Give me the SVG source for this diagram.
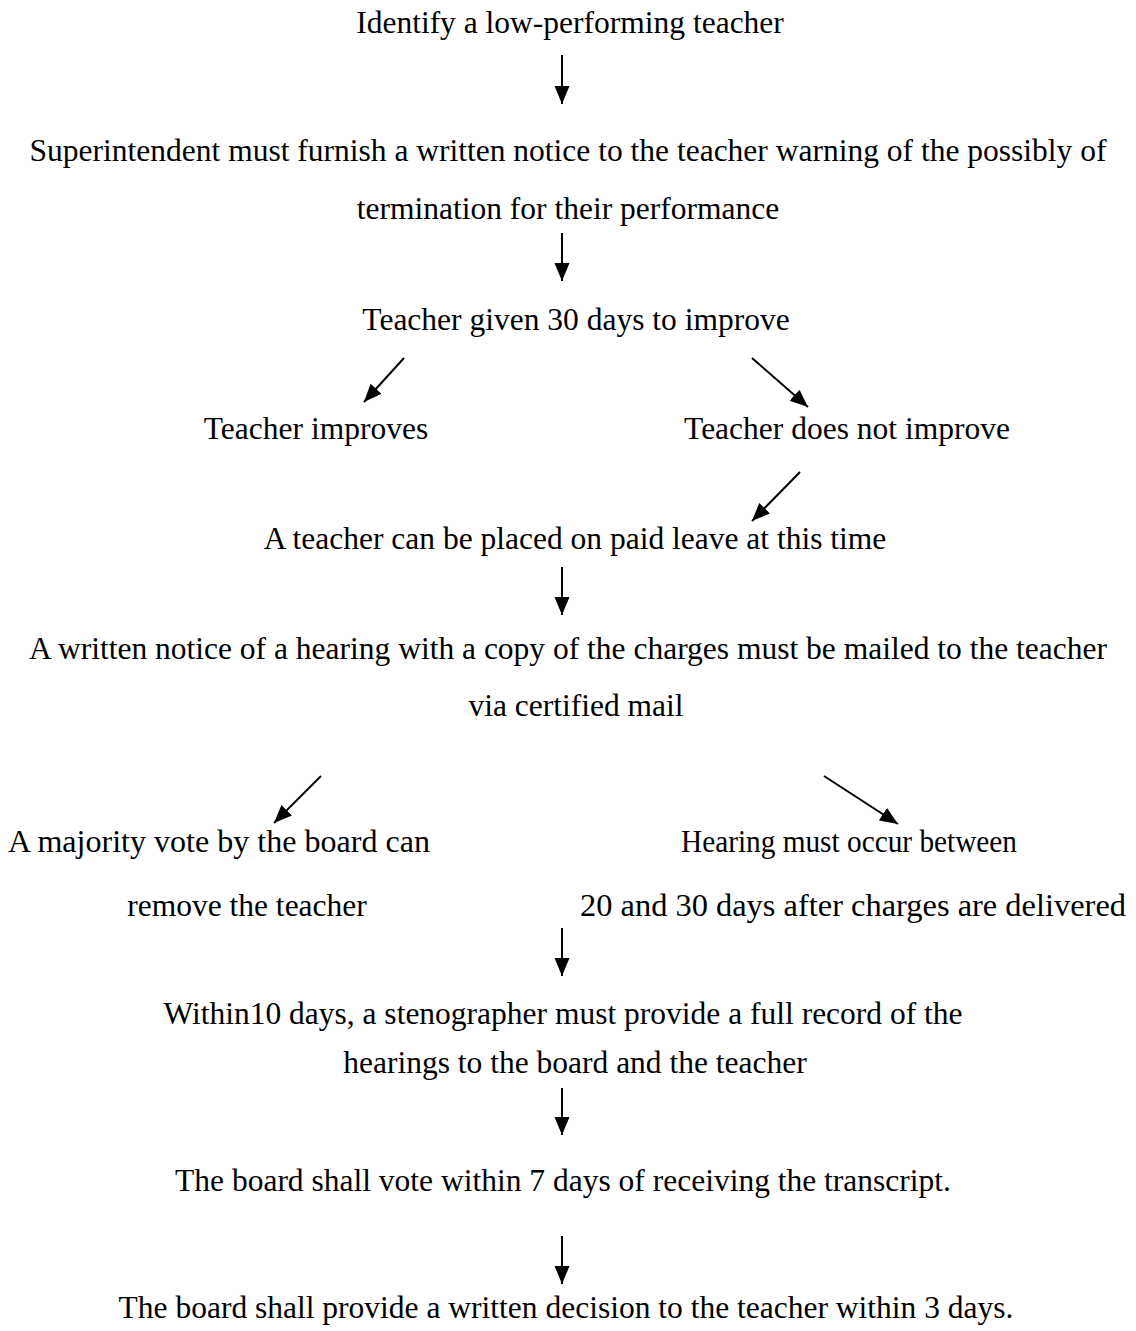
<svg xmlns="http://www.w3.org/2000/svg" width="1136" height="1331" viewBox="0 0 1136 1331">
<style>
text{font-family:"Liberation Serif","Times New Roman",serif;font-size:31.5px;fill:#000;text-anchor:middle}
.c{stroke:#000;stroke-width:2;fill:none;marker-end:url(#ah)}
</style>
<defs>
<marker id="ah" markerUnits="userSpaceOnUse" markerWidth="20" markerHeight="16" refX="18" refY="7.5" orient="auto">
<path d="M0,0 L18,7.5 L0,15 Z" fill="#000"/>
</marker>
</defs>
<rect width="1136" height="1331" fill="#fff"/>
<g id="n1"><text x="570" y="33">Identify a low-performing teacher</text></g>
<g id="n2"><text x="568" y="161">Superintendent must furnish a written notice to the teacher warning of the possibly of</text><text x="568" y="219">termination for their performance</text></g>
<g id="n3"><text x="576" y="330">Teacher given 30 days to improve</text></g>
<g id="n4"><text x="316" y="439">Teacher improves</text></g>
<g id="n5"><text x="847" y="439">Teacher does not improve</text></g>
<g id="n6"><text x="575" y="549">A teacher can be placed on paid leave at this time</text></g>
<g id="n7"><text x="568" y="659">A written notice of a hearing with a copy of the charges must be mailed to the teacher</text><text x="576" y="716">via certified mail</text></g>
<g id="n8"><text x="219" y="852" textLength="422" lengthAdjust="spacingAndGlyphs">A majority vote by the board can</text><text x="247" y="916">remove the teacher</text></g>
<g id="n9"><text x="849" y="852" textLength="336" lengthAdjust="spacingAndGlyphs">Hearing must occur between</text><text x="853" y="916" textLength="546" lengthAdjust="spacingAndGlyphs">20 and 30 days after charges are delivered</text></g>
<g id="n10"><text x="563" y="1024">Within10 days, a stenographer must provide a full record of the</text><text x="575" y="1073">hearings to the board and the teacher</text></g>
<g id="n11"><text x="563" y="1191">The board shall vote within 7 days of receiving the transcript.</text></g>
<g id="n12"><text x="566" y="1318">The board shall provide a written decision to the teacher within 3 days.</text></g>
<g id="connectors">
<line class="c" x1="562" y1="55" x2="562" y2="104"/>
<line class="c" x1="562" y1="233" x2="562" y2="281"/>
<line class="c" x1="404" y1="358" x2="364" y2="402"/>
<line class="c" x1="752" y1="358" x2="808" y2="407"/>
<line class="c" x1="800" y1="472" x2="752" y2="521"/>
<line class="c" x1="562" y1="567" x2="562" y2="615"/>
<line class="c" x1="321" y1="776" x2="274" y2="823"/>
<line class="c" x1="824" y1="776" x2="898" y2="824"/>
<line class="c" x1="562" y1="928" x2="562" y2="976"/>
<line class="c" x1="562" y1="1088" x2="562" y2="1135"/>
<line class="c" x1="562" y1="1236" x2="562" y2="1284"/>
</g>
</svg>
